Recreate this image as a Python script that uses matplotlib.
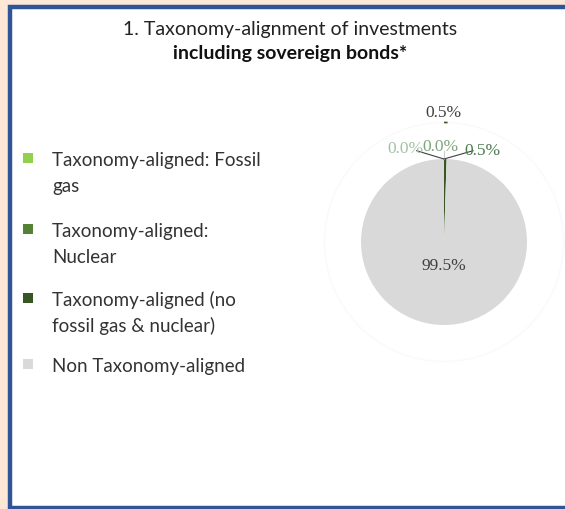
import numpy as np
import matplotlib.pyplot as plt
from matplotlib.patches import Rectangle

# data
categories = ["Taxonomy-aligned: Fossil\ngas",
              "Taxonomy-aligned:\nNuclear",
              "Taxonomy-aligned (no\nfossil gas & nuclear)",
              "Non Taxonomy-aligned"]
shares = [0.0, 0.0, 0.5, 99.5]
outer_shares = [0.5, 99.5]
colors = ["#92d050", "#548235", "#375623", "#d9d9d9"]
label_colors = ["#a3c2a3", "#7fa47f", "#4f7b4f", "#404040"]

W, H = 565, 509
fig = plt.figure(figsize=(W / 100, H / 100), dpi=100)
fig.patch.set_facecolor("#fde8d8")

# white panel with blue border
panel = Rectangle((10 / W, 1.5 / H), 1.2, (H - 8) / H, transform=fig.transFigure,
                  facecolor="white", edgecolor="#2f5597", linewidth=3.2, zorder=-5)
fig.patches.append(panel)

sans = ["Lato", "DejaVu Sans"]
fig.text(290 / W, 1 - 30 / H, "1. Taxonomy-alignment of investments",
         ha="center", va="center", fontsize=14, family=sans, color="#222222")
fig.text(290 / W, 1 - 53 / H, "including sovereign bonds*",
         ha="center", va="center", fontsize=14, family=sans, weight="bold", color="#111111")

# legend (one text per line so spacing is even)
sq_y = [158, 229, 298, 364]
for lab, col, y in zip(categories, colors, sq_y):
    fig.patches.append(Rectangle((23 / W, 1 - (y + 5) / H), 10 / W, 10 / H,
                                 transform=fig.transFigure, facecolor=col, edgecolor="none"))
    for i, line in enumerate(lab.split("\n")):
        fig.text(52 / W, 1 - (y + 8 + 26 * i) / H, line, ha="left", va="baseline",
                 fontsize=13.5, family=sans, color="#333333")

# pie
cx, cy, r = 444, 242, 83
half = 1.75
ax = fig.add_axes([(cx - r * half) / W, 1 - (cy + r * half) / H, 2 * r * half / W, 2 * r * half / H])

ax.pie(outer_shares, radius=1.45, colors=["#375623", "#fafafa"], startangle=90,
       counterclock=False, wedgeprops=dict(width=0.02, linewidth=0))
ax.pie(shares, radius=1.0, colors=colors, startangle=90, counterclock=False,
       wedgeprops=dict(linewidth=0))
ax.set_xlim(-half, half)
ax.set_ylim(-half, half)
ax.set_aspect("equal")
ax.axis("off")

serif = "Liberation Serif"
ax.text(0, -0.29, f"{shares[3]:.1f}%", ha="center", va="center", fontsize=12.5,
        family=serif, color=label_colors[3])
ax.text(-0.01, 1.55, f"{outer_shares[0]:.1f}%", ha="center", va="center", fontsize=12.5,
        family=serif, color="#404040")

lab_pos = [(-0.47, 1.12), (-0.04, 1.15), (0.46, 1.10)]
line_end = [(-0.33, 1.1), (0.0, 1.1), (0.35, 1.1)]
for v, c, (lx, ly), (ex, ey) in zip(shares[:3], label_colors[:3], lab_pos, line_end):
    ax.plot([0, ex], [1.0, ey], color="#404040" if ex != 0 else "#cccccc", lw=0.8)
    ax.text(lx, ly, f"{v:.1f}%", ha="center", va="center", fontsize=12.5,
            family=serif, color=c)

fig.savefig("out.png", dpi=100, facecolor=fig.get_facecolor())
